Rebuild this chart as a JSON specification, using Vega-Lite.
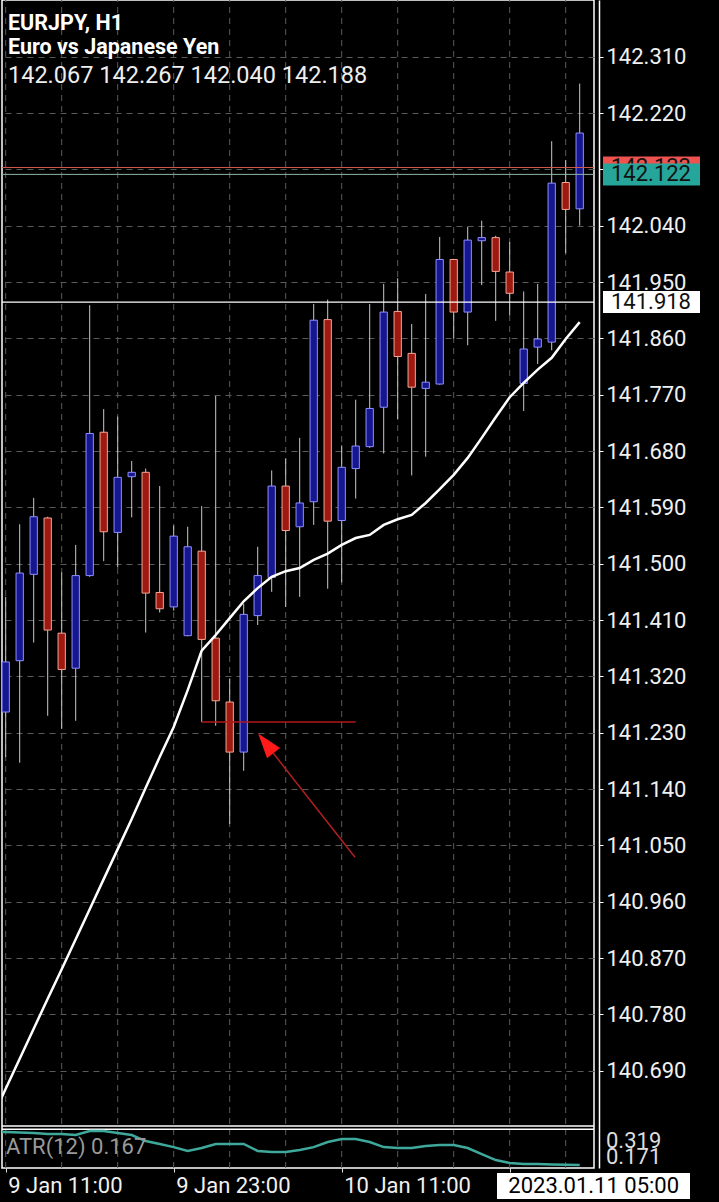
{
  "$schema": "https://vega.github.io/schema/vega-lite/v6.json",
  "width": 592,
  "height": 1168,
  "autosize": {"type": "none"},
  "padding": {"left": 2, "top": 0, "right": 125, "bottom": 34},
  "background": "#000000",
  "config": {"view": {"stroke": "#ffffff", "strokeWidth": 1.5}, "font": "Roboto", "scale": {"continuousPadding": 0}},
  "datasets": {
    "candles": [
      {"t": "2023-01-09T11:00", "open": 141.263, "high": 141.447, "low": 141.191, "close": 141.343},
      {"t": "2023-01-09T12:00", "open": 141.345, "high": 141.563, "low": 141.182, "close": 141.485},
      {"t": "2023-01-09T13:00", "open": 141.483, "high": 141.605, "low": 141.374, "close": 141.575},
      {"t": "2023-01-09T14:00", "open": 141.573, "high": 141.575, "low": 141.257, "close": 141.394},
      {"t": "2023-01-09T15:00", "open": 141.389, "high": 141.486, "low": 141.236, "close": 141.331},
      {"t": "2023-01-09T16:00", "open": 141.333, "high": 141.530, "low": 141.249, "close": 141.481},
      {"t": "2023-01-09T17:00", "open": 141.481, "high": 141.913, "low": 141.479, "close": 141.708},
      {"t": "2023-01-09T18:00", "open": 141.710, "high": 141.747, "low": 141.504, "close": 141.551},
      {"t": "2023-01-09T19:00", "open": 141.550, "high": 141.735, "low": 141.494, "close": 141.638},
      {"t": "2023-01-09T20:00", "open": 141.639, "high": 141.664, "low": 141.574, "close": 141.646},
      {"t": "2023-01-09T21:00", "open": 141.646, "high": 141.652, "low": 141.390, "close": 141.453},
      {"t": "2023-01-09T22:00", "open": 141.454, "high": 141.624, "low": 141.422, "close": 141.428},
      {"t": "2023-01-09T23:00", "open": 141.431, "high": 141.561, "low": 141.425, "close": 141.544},
      {"t": "2023-01-10T00:00", "open": 141.385, "high": 141.559, "low": 141.384, "close": 141.527},
      {"t": "2023-01-10T01:00", "open": 141.520, "high": 141.592, "low": 141.247, "close": 141.379},
      {"t": "2023-01-10T02:00", "open": 141.381, "high": 141.768, "low": 141.241, "close": 141.281},
      {"t": "2023-01-10T03:00", "open": 141.279, "high": 141.316, "low": 141.084, "close": 141.199},
      {"t": "2023-01-10T04:00", "open": 141.199, "high": 141.436, "low": 141.169, "close": 141.419},
      {"t": "2023-01-10T05:00", "open": 141.417, "high": 141.527, "low": 141.402, "close": 141.481},
      {"t": "2023-01-10T06:00", "open": 141.478, "high": 141.649, "low": 141.455, "close": 141.624},
      {"t": "2023-01-10T07:00", "open": 141.624, "high": 141.668, "low": 141.431, "close": 141.553},
      {"t": "2023-01-10T08:00", "open": 141.559, "high": 141.701, "low": 141.447, "close": 141.597},
      {"t": "2023-01-10T09:00", "open": 141.599, "high": 141.915, "low": 141.562, "close": 141.889},
      {"t": "2023-01-10T10:00", "open": 141.890, "high": 141.922, "low": 141.460, "close": 141.568},
      {"t": "2023-01-10T11:00", "open": 141.569, "high": 141.689, "low": 141.470, "close": 141.654},
      {"t": "2023-01-10T12:00", "open": 141.652, "high": 141.762, "low": 141.604, "close": 141.688},
      {"t": "2023-01-10T13:00", "open": 141.687, "high": 141.915, "low": 141.685, "close": 141.748},
      {"t": "2023-01-10T14:00", "open": 141.750, "high": 141.947, "low": 141.676, "close": 141.902},
      {"t": "2023-01-10T15:00", "open": 141.903, "high": 141.956, "low": 141.731, "close": 141.831},
      {"t": "2023-01-10T16:00", "open": 141.836, "high": 141.883, "low": 141.641, "close": 141.782},
      {"t": "2023-01-10T17:00", "open": 141.780, "high": 141.931, "low": 141.671, "close": 141.790},
      {"t": "2023-01-10T18:00", "open": 141.787, "high": 142.022, "low": 141.786, "close": 141.986},
      {"t": "2023-01-10T19:00", "open": 141.986, "high": 141.987, "low": 141.860, "close": 141.902},
      {"t": "2023-01-10T20:00", "open": 141.902, "high": 142.038, "low": 141.849, "close": 142.017},
      {"t": "2023-01-10T21:00", "open": 142.016, "high": 142.048, "low": 141.945, "close": 142.021},
      {"t": "2023-01-10T22:00", "open": 142.021, "high": 142.024, "low": 141.888, "close": 141.967},
      {"t": "2023-01-10T23:00", "open": 141.966, "high": 142.014, "low": 141.897, "close": 141.932},
      {"t": "2023-01-11T00:00", "open": 141.788, "high": 141.935, "low": 141.744, "close": 141.843},
      {"t": "2023-01-11T01:00", "open": 141.846, "high": 141.947, "low": 141.819, "close": 141.859},
      {"t": "2023-01-11T02:00", "open": 141.854, "high": 142.175, "low": 141.841, "close": 142.108},
      {"t": "2023-01-11T03:00", "open": 142.109, "high": 142.145, "low": 141.996, "close": 142.066},
      {"t": "2023-01-11T04:00", "open": 142.067, "high": 142.267, "low": 142.040, "close": 142.188}
    ],
    "ma": [
      {"t": "2023-01-09T10:00", "ma": 140.613},
      {"t": "2023-01-09T11:00", "ma": 140.661},
      {"t": "2023-01-09T12:00", "ma": 140.709},
      {"t": "2023-01-09T13:00", "ma": 140.757},
      {"t": "2023-01-09T14:00", "ma": 140.805},
      {"t": "2023-01-09T15:00", "ma": 140.852},
      {"t": "2023-01-09T16:00", "ma": 140.900},
      {"t": "2023-01-09T17:00", "ma": 140.948},
      {"t": "2023-01-09T18:00", "ma": 140.996},
      {"t": "2023-01-09T19:00", "ma": 141.044},
      {"t": "2023-01-09T20:00", "ma": 141.092},
      {"t": "2023-01-09T21:00", "ma": 141.142},
      {"t": "2023-01-09T22:00", "ma": 141.191},
      {"t": "2023-01-09T23:00", "ma": 141.239},
      {"t": "2023-01-10T00:00", "ma": 141.298},
      {"t": "2023-01-10T01:00", "ma": 141.361},
      {"t": "2023-01-10T02:00", "ma": 141.386},
      {"t": "2023-01-10T03:00", "ma": 141.413},
      {"t": "2023-01-10T04:00", "ma": 141.440},
      {"t": "2023-01-10T05:00", "ma": 141.461},
      {"t": "2023-01-10T06:00", "ma": 141.479},
      {"t": "2023-01-10T07:00", "ma": 141.488},
      {"t": "2023-01-10T08:00", "ma": 141.493},
      {"t": "2023-01-10T09:00", "ma": 141.506},
      {"t": "2023-01-10T10:00", "ma": 141.516},
      {"t": "2023-01-10T11:00", "ma": 141.530},
      {"t": "2023-01-10T12:00", "ma": 141.541},
      {"t": "2023-01-10T13:00", "ma": 141.546},
      {"t": "2023-01-10T14:00", "ma": 141.562},
      {"t": "2023-01-10T15:00", "ma": 141.571},
      {"t": "2023-01-10T16:00", "ma": 141.578},
      {"t": "2023-01-10T17:00", "ma": 141.597},
      {"t": "2023-01-10T18:00", "ma": 141.619},
      {"t": "2023-01-10T19:00", "ma": 141.642},
      {"t": "2023-01-10T20:00", "ma": 141.669},
      {"t": "2023-01-10T21:00", "ma": 141.701},
      {"t": "2023-01-10T22:00", "ma": 141.734},
      {"t": "2023-01-10T23:00", "ma": 141.766},
      {"t": "2023-01-11T00:00", "ma": 141.789},
      {"t": "2023-01-11T01:00", "ma": 141.810},
      {"t": "2023-01-11T02:00", "ma": 141.829},
      {"t": "2023-01-11T03:00", "ma": 141.859},
      {"t": "2023-01-11T04:00", "ma": 141.886}
    ],
    "atr": [
      {"t": "2023-01-09T10:00", "atr": 0.3145},
      {"t": "2023-01-09T11:00", "atr": 0.3145},
      {"t": "2023-01-09T12:00", "atr": 0.312},
      {"t": "2023-01-09T13:00", "atr": 0.310},
      {"t": "2023-01-09T14:00", "atr": 0.306},
      {"t": "2023-01-09T15:00", "atr": 0.306},
      {"t": "2023-01-09T16:00", "atr": 0.301},
      {"t": "2023-01-09T17:00", "atr": 0.319},
      {"t": "2023-01-09T18:00", "atr": 0.319},
      {"t": "2023-01-09T19:00", "atr": 0.310},
      {"t": "2023-01-09T20:00", "atr": 0.301},
      {"t": "2023-01-09T21:00", "atr": 0.274},
      {"t": "2023-01-09T22:00", "atr": 0.261},
      {"t": "2023-01-09T23:00", "atr": 0.247},
      {"t": "2023-01-10T00:00", "atr": 0.230},
      {"t": "2023-01-10T01:00", "atr": 0.243},
      {"t": "2023-01-10T02:00", "atr": 0.261},
      {"t": "2023-01-10T03:00", "atr": 0.261},
      {"t": "2023-01-10T04:00", "atr": 0.261},
      {"t": "2023-01-10T05:00", "atr": 0.230},
      {"t": "2023-01-10T06:00", "atr": 0.225},
      {"t": "2023-01-10T07:00", "atr": 0.225},
      {"t": "2023-01-10T08:00", "atr": 0.234},
      {"t": "2023-01-10T09:00", "atr": 0.247},
      {"t": "2023-01-10T10:00", "atr": 0.270},
      {"t": "2023-01-10T11:00", "atr": 0.283},
      {"t": "2023-01-10T12:00", "atr": 0.283},
      {"t": "2023-01-10T13:00", "atr": 0.270},
      {"t": "2023-01-10T14:00", "atr": 0.247},
      {"t": "2023-01-10T15:00", "atr": 0.243},
      {"t": "2023-01-10T16:00", "atr": 0.243},
      {"t": "2023-01-10T17:00", "atr": 0.252},
      {"t": "2023-01-10T18:00", "atr": 0.256},
      {"t": "2023-01-10T19:00", "atr": 0.256},
      {"t": "2023-01-10T20:00", "atr": 0.243},
      {"t": "2023-01-10T21:00", "atr": 0.216},
      {"t": "2023-01-10T22:00", "atr": 0.189},
      {"t": "2023-01-10T23:00", "atr": 0.176},
      {"t": "2023-01-11T00:00", "atr": 0.171},
      {"t": "2023-01-11T01:00", "atr": 0.171},
      {"t": "2023-01-11T02:00", "atr": 0.169},
      {"t": "2023-01-11T03:00", "atr": 0.168},
      {"t": "2023-01-11T04:00", "atr": 0.167}
    ],
    "levels": [
      {"level": "ask", "price": 142.133},
      {"level": "bid", "price": 142.122},
      {"level": "line", "price": 141.918}
    ],
    "trend": [
      {"t": "2023-01-10T01:00", "price": 141.247},
      {"t": "2023-01-10T12:00", "price": 141.247}
    ],
    "arrow": [
      {"t": "2023-01-10T11:57", "price": 141.031},
      {"t": "2023-01-10T06:07", "price": 141.197}
    ]
  },
  "resolve": {"scale": {"y": "independent"}},
  "layer": [
    {
      "data": {"name": "candles"},
      "transform": [{"filter": "hours(toDate(datum.t)) % 4 == 3"}],
      "mark": {"type": "rule", "color": "#5a5a5a", "strokeWidth": 1, "strokeDash": [6, 5]},
      "encoding": {
        "x": {"field": "t", "type": "temporal"},
        "y": {"datum": 140.5345, "type": "quantitative", "scale": {"domain": [140.5345, 142.4006], "nice": false, "zero": false, "padding": 0}, "axis": null},
        "y2": {"datum": 142.4006}
      }
    },
    {
      "data": {"name": "candles"},
      "mark": {"type": "rule", "color": "#c8c8d0", "strokeWidth": 1},
      "encoding": {
        "x": {
          "field": "t", "type": "temporal",
          "scale": {"domain": [{"year": 2023, "month": 1, "date": 9, "hours": 10, "minutes": 44, "seconds": 9}, {"year": 2023, "month": 1, "date": 11, "hours": 5, "minutes": 1, "seconds": 17}], "padding": 0},
          "axis": {
            "values": [
              {"year": 2023, "month": 1, "date": 9, "hours": 11},
              {"year": 2023, "month": 1, "date": 9, "hours": 23},
              {"year": 2023, "month": 1, "date": 10, "hours": 11},
              {"year": 2023, "month": 1, "date": 10, "hours": 23}
            ],
            "labelExpr": "(hours(datum.value) == 11 || (hours(datum.value) == 23 && date(datum.value) == 9)) ? timeFormat(datum.value, '%-d %b %H:%M') : ''",
            "title": null,
            "grid": false,
            "domain": false,
            "tickColor": "#e0e0e0",
            "tickSize": 4,
            "labelAlign": "left", "labelOffset": 2, "labelPadding": 3, "labelBaseline": "top",
            "labelColor": "#f0f0f0", "labelFont": "Roboto", "labelFontSize": 22,
            "labelFlush": false, "labelOverlap": false
          }
        },
        "y": {
          "field": "low", "type": "quantitative",
          "scale": {"domain": [140.5345, 142.4006], "nice": false, "zero": false, "padding": 0},
          "axis": {
            "orient": "right", "offset": 5,
            "values": [140.69, 140.78, 140.87, 140.96, 141.05, 141.14, 141.23, 141.32, 141.41, 141.5, 141.59, 141.68, 141.77, 141.86, 141.95, 142.04, 142.13, 142.22, 142.31],
            "format": ".3f", "title": null,
            "grid": true, "gridColor": "#5a5a5a", "gridDash": [6, 5], "gridWidth": 1,
            "domainColor": "#ffffff", "domainWidth": 1.5,
            "tickColor": "#ffffff", "tickSize": 4,
            "labelPadding": 3, "labelColor": "#f0f0f0", "labelFont": "Roboto", "labelFontSize": 22, "labelBaseline": "middle"
          }
        },
        "y2": {"field": "high"}
      }
    },
    {
      "data": {"name": "candles"},
      "mark": {"type": "bar", "size": 7.3, "strokeWidth": 1},
      "encoding": {
        "x": {"field": "t", "type": "temporal"},
        "y": {"field": "open", "type": "quantitative", "scale": {"domain": [140.5345, 142.4006], "nice": false, "zero": false, "padding": 0}, "axis": null},
        "y2": {"field": "close"},
        "fill": {"condition": {"test": "datum.close > datum.open", "value": "#16168f"}, "value": "#9e1a10"},
        "stroke": {"condition": {"test": "datum.close > datum.open", "value": "#8e8eff"}, "value": "#f4a596"}
      }
    },
    {
      "data": {"name": "trend"},
      "mark": {"type": "line", "color": "#b01818", "strokeWidth": 1.5},
      "encoding": {
        "x": {"field": "t", "type": "temporal"},
        "y": {"field": "price", "type": "quantitative", "scale": {"domain": [140.5345, 142.4006], "nice": false, "zero": false, "padding": 0}, "axis": null}
      }
    },
    {
      "data": {"name": "ma"},
      "mark": {"type": "line", "color": "#ffffff", "strokeWidth": 2.5, "clip": true},
      "encoding": {
        "x": {"field": "t", "type": "temporal"},
        "y": {"field": "ma", "type": "quantitative", "scale": {"domain": [140.5345, 142.4006], "nice": false, "zero": false, "padding": 0}, "axis": null}
      }
    },
    {
      "data": {"name": "arrow"},
      "mark": {"type": "line", "color": "#b02020", "strokeWidth": 1.5},
      "encoding": {
        "x": {"field": "t", "type": "temporal"},
        "y": {"field": "price", "type": "quantitative", "scale": {"domain": [140.5345, 142.4006], "nice": false, "zero": false, "padding": 0}, "axis": null}
      }
    },
    {
      "data": {"values": [{}]},
      "mark": {"type": "point", "shape": "M0,-1L0.66,1L-0.66,1Z", "size": 625, "angle": 322, "filled": true, "color": "#ff1a1a", "opacity": 1},
      "encoding": {
        "x": {"datum": {"year": 2023, "month": 1, "date": 10, "hours": 5, "minutes": 35}},
        "y": {"datum": 141.213, "type": "quantitative", "scale": {"domain": [140.5345, 142.4006], "nice": false, "zero": false, "padding": 0}, "axis": null}
      }
    },
    {
      "data": {"name": "levels"},
      "transform": [{"filter": "datum.level == 'ask'"}],
      "mark": {"type": "rule", "strokeWidth": 1, "color": "#d0584e"},
      "encoding": {
        "y": {"field": "price", "type": "quantitative", "scale": {"domain": [140.5345, 142.4006], "nice": false, "zero": false, "padding": 0}, "axis": null}
      }
    },
    {
      "data": {"name": "levels"},
      "transform": [{"filter": "datum.level == 'bid'"}],
      "mark": {"type": "rule", "strokeWidth": 1, "color": "#8fb3ac"},
      "encoding": {
        "y": {"field": "price", "type": "quantitative", "scale": {"domain": [140.5345, 142.4006], "nice": false, "zero": false, "padding": 0}, "axis": null}
      }
    },
    {
      "data": {"name": "levels"},
      "transform": [{"filter": "datum.level == 'line'"}],
      "mark": {"type": "rule", "strokeWidth": 1.2, "color": "#ffffff"},
      "encoding": {
        "y": {"field": "price", "type": "quantitative", "scale": {"domain": [140.5345, 142.4006], "nice": false, "zero": false, "padding": 0}, "axis": null}
      }
    },
    {
      "data": {"values": [{}]},
      "mark": {"type": "rule", "color": "#ffffff", "strokeWidth": 1.5},
      "encoding": {"y": {"datum": 140.6016, "type": "quantitative", "scale": {"domain": [140.5345, 142.4006], "nice": false, "zero": false, "padding": 0}, "axis": null}}
    },
    {
      "data": {"values": [{}]},
      "mark": {"type": "rule", "color": "#ffffff", "strokeWidth": 1.5},
      "encoding": {"y": {"datum": 140.5965, "type": "quantitative", "scale": {"domain": [140.5345, 142.4006], "nice": false, "zero": false, "padding": 0}, "axis": null}}
    },
    {
      "data": {"values": [{}]},
      "mark": {"type": "text", "text": "EURJPY, H1", "font": "Roboto", "fontSize": 21.5, "fontWeight": "bold", "color": "#ffffff", "align": "left", "baseline": "alphabetic"},
      "encoding": {
        "x": {"datum": {"year": 2023, "month": 1, "date": 9, "hours": 11, "minutes": 9, "seconds": 51}},
        "y": {"datum": 142.3527, "type": "quantitative", "scale": {"domain": [140.5345, 142.4006], "nice": false, "zero": false, "padding": 0}, "axis": null}
      }
    },
    {
      "data": {"values": [{}]},
      "mark": {"type": "text", "text": "Euro vs Japanese Yen", "font": "Roboto", "fontSize": 21.5, "fontWeight": "bold", "color": "#ffffff", "align": "left", "baseline": "alphabetic"},
      "encoding": {
        "x": {"datum": {"year": 2023, "month": 1, "date": 9, "hours": 11, "minutes": 9, "seconds": 51}},
        "y": {"datum": 142.3143, "type": "quantitative", "scale": {"domain": [140.5345, 142.4006], "nice": false, "zero": false, "padding": 0}, "axis": null}
      }
    },
    {
      "data": {"values": [{}]},
      "mark": {"type": "text", "text": "142.067 142.267 142.040 142.188", "font": "Roboto", "fontSize": 23.5, "color": "#eeeeee", "align": "left", "baseline": "alphabetic"},
      "encoding": {
        "x": {"datum": {"year": 2023, "month": 1, "date": 9, "hours": 11, "minutes": 9, "seconds": 51}},
        "y": {"datum": 142.268, "type": "quantitative", "scale": {"domain": [140.5345, 142.4006], "nice": false, "zero": false, "padding": 0}, "axis": null}
      }
    },
    {
      "data": {"name": "levels"},
      "transform": [{"filter": "datum.level == 'ask'"}],
      "mark": {"type": "bar", "size": 22, "color": "#ef5350", "clip": false},
      "encoding": {
        "x": {"datum": {"year": 2023, "month": 1, "date": 11, "hours": 5, "minutes": 39, "seconds": 52}},
        "x2": {"datum": {"year": 2023, "month": 1, "date": 11, "hours": 12, "minutes": 35, "seconds": 34}},
        "y": {"field": "price", "type": "quantitative", "scale": {"domain": [140.5345, 142.4006], "nice": false, "zero": false, "padding": 0}, "axis": null}
      }
    },
    {
      "data": {"name": "levels"},
      "transform": [{"filter": "datum.level == 'ask'"}],
      "mark": {"type": "text", "font": "Roboto", "fontSize": 22, "color": "#111111", "align": "center", "baseline": "middle", "clip": false},
      "encoding": {
        "x": {"datum": {"year": 2023, "month": 1, "date": 11, "hours": 9, "minutes": 5, "seconds": 34}},
        "y": {"field": "price", "type": "quantitative", "scale": {"domain": [140.5345, 142.4006], "nice": false, "zero": false, "padding": 0}, "axis": null},
        "text": {"field": "price", "type": "quantitative", "format": ".3f"}
      }
    },
    {
      "data": {"name": "levels"},
      "transform": [{"filter": "datum.level == 'bid'"}],
      "mark": {"type": "bar", "size": 22, "color": "#26a69a", "clip": false},
      "encoding": {
        "x": {"datum": {"year": 2023, "month": 1, "date": 11, "hours": 5, "minutes": 39, "seconds": 52}},
        "x2": {"datum": {"year": 2023, "month": 1, "date": 11, "hours": 12, "minutes": 35, "seconds": 34}},
        "y": {"field": "price", "type": "quantitative", "scale": {"domain": [140.5345, 142.4006], "nice": false, "zero": false, "padding": 0}, "axis": null}
      }
    },
    {
      "data": {"name": "levels"},
      "transform": [{"filter": "datum.level == 'bid'"}],
      "mark": {"type": "text", "font": "Roboto", "fontSize": 22, "color": "#111111", "align": "center", "baseline": "middle", "clip": false},
      "encoding": {
        "x": {"datum": {"year": 2023, "month": 1, "date": 11, "hours": 9, "minutes": 5, "seconds": 34}},
        "y": {"field": "price", "type": "quantitative", "scale": {"domain": [140.5345, 142.4006], "nice": false, "zero": false, "padding": 0}, "axis": null},
        "text": {"field": "price", "type": "quantitative", "format": ".3f"}
      }
    },
    {
      "data": {"name": "levels"},
      "transform": [{"filter": "datum.level == 'line'"}],
      "mark": {"type": "bar", "size": 22, "color": "#ffffff", "clip": false},
      "encoding": {
        "x": {"datum": {"year": 2023, "month": 1, "date": 11, "hours": 5, "minutes": 39, "seconds": 52}},
        "x2": {"datum": {"year": 2023, "month": 1, "date": 11, "hours": 12, "minutes": 35, "seconds": 34}},
        "y": {"field": "price", "type": "quantitative", "scale": {"domain": [140.5345, 142.4006], "nice": false, "zero": false, "padding": 0}, "axis": null}
      }
    },
    {
      "data": {"name": "levels"},
      "transform": [{"filter": "datum.level == 'line'"}],
      "mark": {"type": "text", "font": "Roboto", "fontSize": 22, "color": "#111111", "align": "center", "baseline": "middle", "clip": false},
      "encoding": {
        "x": {"datum": {"year": 2023, "month": 1, "date": 11, "hours": 9, "minutes": 5, "seconds": 34}},
        "y": {"field": "price", "type": "quantitative", "scale": {"domain": [140.5345, 142.4006], "nice": false, "zero": false, "padding": 0}, "axis": null},
        "text": {"field": "price", "type": "quantitative", "format": ".3f"}
      }
    },
    {
      "data": {"name": "atr"},
      "mark": {"type": "line", "color": "#3ea99b", "strokeWidth": 2.5, "clip": true},
      "encoding": {
        "x": {"field": "t", "type": "temporal"},
        "y": {"field": "atr", "type": "quantitative", "scale": {"domain": [0.15359, 5.3749], "nice": false, "zero": false, "padding": 0}, "axis": null}
      }
    },
    {
      "data": {"values": [{}]},
      "mark": {"type": "text", "text": "0.319", "font": "Roboto", "fontSize": 22, "color": "#dddddd", "align": "left", "baseline": "top", "clip": false},
      "encoding": {
        "x": {"datum": {"year": 2023, "month": 1, "date": 11, "hours": 5, "minutes": 52, "seconds": 43}},
        "y": {"datum": 0.319, "type": "quantitative", "scale": {"domain": [0.15359, 5.3749], "nice": false, "zero": false, "padding": 0}, "axis": null}
      }
    },
    {
      "data": {"values": [{}]},
      "mark": {"type": "text", "text": "0.171", "font": "Roboto", "fontSize": 22, "color": "#dddddd", "align": "left", "baseline": "alphabetic", "clip": false},
      "encoding": {
        "x": {"datum": {"year": 2023, "month": 1, "date": 11, "hours": 5, "minutes": 52, "seconds": 43}},
        "y": {"datum": 0.171, "type": "quantitative", "scale": {"domain": [0.15359, 5.3749], "nice": false, "zero": false, "padding": 0}, "axis": null}
      }
    },
    {
      "data": {"values": [{}]},
      "mark": {"type": "text", "text": "ATR(12) 0.167", "font": "Roboto", "fontSize": 22, "color": "#9a9a9a", "align": "left", "baseline": "middle"},
      "encoding": {
        "x": {"datum": {"year": 2023, "month": 1, "date": 9, "hours": 11, "minutes": 1, "seconds": 17}},
        "y": {"datum": 0.2475, "type": "quantitative", "scale": {"domain": [0.15359, 5.3749], "nice": false, "zero": false, "padding": 0}, "axis": null}
      }
    },
    {
      "data": {"values": [{}]},
      "mark": {"type": "bar", "size": 26, "color": "#ffffff", "clip": false},
      "encoding": {
        "x": {"datum": {"year": 2023, "month": 1, "date": 10, "hours": 22, "minutes": 5, "seconds": 34}},
        "x2": {"datum": {"year": 2023, "month": 1, "date": 11, "hours": 11, "minutes": 52, "seconds": 43}},
        "y": {"datum": 0.0731, "type": "quantitative", "scale": {"domain": [0.15359, 5.3749], "nice": false, "zero": false, "padding": 0}, "axis": null}
      }
    },
    {
      "data": {"values": [{}]},
      "mark": {"type": "text", "text": "2023.01.11 05:00", "font": "Roboto", "fontSize": 22, "color": "#000000", "align": "center", "baseline": "middle", "clip": false},
      "encoding": {
        "x": {"datum": {"year": 2023, "month": 1, "date": 11, "hours": 5}},
        "y": {"datum": 0.0731, "type": "quantitative", "scale": {"domain": [0.15359, 5.3749], "nice": false, "zero": false, "padding": 0}, "axis": null}
      }
    }
  ]
}
